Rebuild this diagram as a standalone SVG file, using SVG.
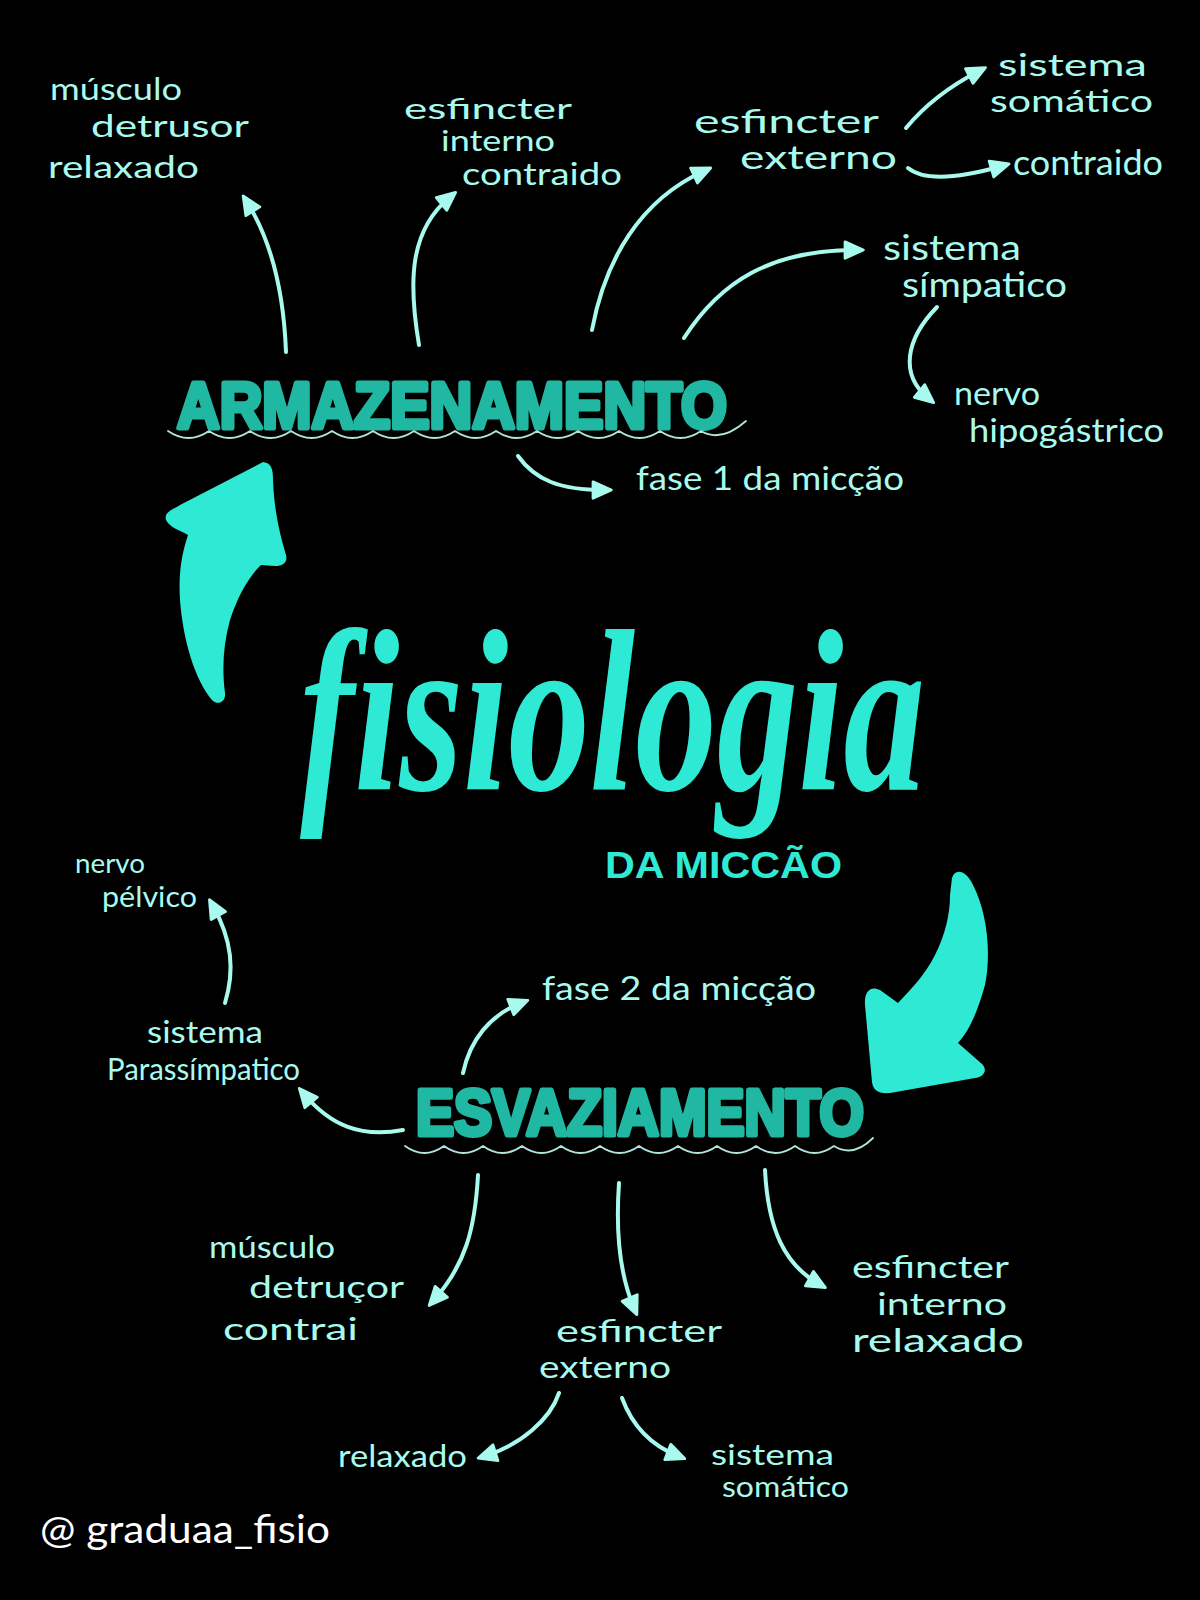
<svg xmlns="http://www.w3.org/2000/svg" width="1200" height="1600" viewBox="0 0 1200 1600">
<style>
.t{font-family:"Lato","Liberation Sans",sans-serif;fill:#a9faee;font-weight:400}
.title{font-family:"Liberation Sans","Arial",sans-serif;font-weight:700;fill:#21b8a3;stroke:#21b8a3;stroke-width:5;stroke-linejoin:round}
.big{fill:#2eead5}
.wave{fill:none;stroke:#b3e4da;stroke-width:1.8;stroke-linecap:round;stroke-linejoin:round}
.c{fill:none;stroke:#a9faee;stroke-width:4;stroke-linecap:round;marker-end:url(#ah)}
</style>
<defs>
<marker id="ah" viewBox="0 0 12 12" refX="7" refY="6" markerWidth="5.5" markerHeight="5.5" orient="auto" markerUnits="strokeWidth">
<path d="M1,1.5 L11,6 L1,10.5 Z" fill="#a9faee" stroke="#a9faee" stroke-width="1.5" stroke-linejoin="round"/>
</marker>
</defs>
<rect width="1200" height="1600" fill="#000"/>

<g id="connectors">
<path class="c" d="M286,352 C284,300 274,245 247,202"/>
<path class="c" d="M419,345 C408,280 410,230 450,197"/>
<path class="c" d="M592,330 C605,260 640,200 704,171"/>
<path class="c" d="M684,338 C720,282 770,250 856,250"/>
<path class="c" d="M906,128 C925,105 950,86 979,71"/>
<path class="c" d="M908,168 C925,182 960,178 1002,166"/>
<path class="c" d="M937,307 C905,340 900,375 928,398"/>
<path class="c" d="M518,456 C535,480 560,490 604,490"/>
<path class="c" d="M225,1003 C235,970 232,940 213,906"/>
<path class="c" d="M403,1130 C360,1138 330,1125 304,1094"/>
<path class="c" d="M463,1073 C470,1040 490,1015 521,1003"/>
<path class="c" d="M478,1175 C475,1230 465,1265 434,1300"/>
<path class="c" d="M619,1183 C615,1240 622,1280 634,1308"/>
<path class="c" d="M765,1170 C768,1230 785,1265 819,1284"/>
<path class="c" d="M559,1393 C550,1420 520,1445 485,1456"/>
<path class="c" d="M622,1398 C632,1425 650,1445 678,1456"/>
</g>

<g id="big-arrow-up">
<path class="big" d="M263,462 C272,463 273,470 273,480 C274,510 280,535 286,555 C288,562 283,566 275,566 L261,565 C250,575 238,595 230,620 C223,645 222,670 225,693 C226,702 218,706 212,700 C195,680 183,640 180,600 C178,570 183,550 188,535 C180,530 170,528 166,520 C164,512 172,510 180,505 Z"/>
</g>
<g id="big-arrow-down">
<path class="big" d="M952,878 C955,868 966,870 973,885 C986,910 992,950 985,985 C978,1010 970,1030 958,1043 L982,1064 C988,1070 984,1077 975,1078 L890,1093 C878,1094 873,1090 872,1082 L865,1005 C864,992 870,985 880,990 L898,1003 C912,988 925,975 935,955 C945,935 950,915 950,895 Z"/>
</g>

<g id="fisiologia">
<text x="300" y="790" font-family="Liberation Serif, serif" font-style="italic" font-weight="700" font-size="230" fill="#2eead5" textLength="625" lengthAdjust="spacingAndGlyphs">fisiologia</text>
<text x="605" y="878" font-family="Liberation Sans, sans-serif" font-weight="700" font-size="36" fill="#2eead5" textLength="237" lengthAdjust="spacingAndGlyphs">DA MICCÃO</text>
</g>

<g id="armazenamento">
<text class="title" x="177" y="428" font-size="64" textLength="550" lengthAdjust="spacingAndGlyphs">ARMAZENAMENTO</text>
<path class="wave" d="M168,431 q20.5,14 41,0 q20.5,14 41,0 q20.5,14 41,0 q20.5,14 41,0 q20.5,14 41,0 q20.5,14 41,0 q20.5,14 41,0 q20.5,14 41,0 q20.5,14 41,0 q20.5,14 41,0 q20.5,14 41,0 q20.5,14 41,0 q20.5,14 41,0 q20,12 45,-10"/>
</g>

<g id="esvaziamento">
<text class="title" x="416" y="1135" font-size="64" textLength="448" lengthAdjust="spacingAndGlyphs">ESVAZIAMENTO</text>
<path class="wave" d="M405,1146 q19.5,14 39,0 q19.5,14 39,0 q19.5,14 39,0 q19.5,14 39,0 q19.5,14 39,0 q19.5,14 39,0 q19.5,14 39,0 q19.5,14 39,0 q19.5,14 39,0 q19.5,14 39,0 q19.5,14 39,0 q19,12 39,-8"/>
</g>

<g id="musculo-relaxado">
<text class="t" x="50" y="100" font-size="30" textLength="132" lengthAdjust="spacingAndGlyphs">músculo</text>
<text class="t" x="91" y="137" font-size="30" textLength="158" lengthAdjust="spacingAndGlyphs">detrusor</text>
<text class="t" x="48" y="178" font-size="30" textLength="151" lengthAdjust="spacingAndGlyphs">relaxado</text>
</g>

<g id="esfincter-interno-contraido">
<text class="t" x="404" y="119" font-size="28" textLength="168" lengthAdjust="spacingAndGlyphs">esfincter</text>
<text class="t" x="441" y="151" font-size="28" textLength="114" lengthAdjust="spacingAndGlyphs">interno</text>
<text class="t" x="462" y="185" font-size="30" textLength="160" lengthAdjust="spacingAndGlyphs">contraido</text>
</g>

<g id="esfincter-externo-top">
<text class="t" x="694" y="133" font-size="32" textLength="185" lengthAdjust="spacingAndGlyphs">esfincter</text>
<text class="t" x="740" y="169" font-size="32" textLength="157" lengthAdjust="spacingAndGlyphs">externo</text>
</g>

<g id="sistema-somatico-top">
<text class="t" x="998" y="76" font-size="30" textLength="149" lengthAdjust="spacingAndGlyphs">sistema</text>
<text class="t" x="990" y="112" font-size="30" textLength="163" lengthAdjust="spacingAndGlyphs">somático</text>
</g>

<g id="contraido-top">
<text class="t" x="1013" y="175" font-size="34" textLength="150" lengthAdjust="spacingAndGlyphs">contraido</text>
</g>

<g id="sistema-simpatico">
<text class="t" x="883" y="260" font-size="34" textLength="138" lengthAdjust="spacingAndGlyphs">sistema</text>
<text class="t" x="902" y="297" font-size="34" textLength="165" lengthAdjust="spacingAndGlyphs">símpatico</text>
</g>

<g id="nervo-hipogastrico">
<text class="t" x="954" y="405" font-size="32" textLength="86" lengthAdjust="spacingAndGlyphs">nervo</text>
<text class="t" x="969" y="442" font-size="32" textLength="195" lengthAdjust="spacingAndGlyphs">hipogástrico</text>
</g>

<g id="fase-1">
<text class="t" x="636" y="490" font-size="32" textLength="268" lengthAdjust="spacingAndGlyphs">fase 1 da micção</text>
</g>

<g id="nervo-pelvico">
<text class="t" x="75" y="873" font-size="26" textLength="70" lengthAdjust="spacingAndGlyphs">nervo</text>
<text class="t" x="102" y="907" font-size="28" textLength="95" lengthAdjust="spacingAndGlyphs">pélvico</text>
</g>

<g id="sistema-parassimpatico">
<text class="t" x="147" y="1043" font-size="30" textLength="116" lengthAdjust="spacingAndGlyphs">sistema</text>
<text class="t" x="107" y="1080" font-size="30" textLength="193" lengthAdjust="spacingAndGlyphs">Parassímpatico</text>
</g>

<g id="fase-2">
<text class="t" x="542" y="1000" font-size="32" textLength="274" lengthAdjust="spacingAndGlyphs">fase 2 da micção</text>
</g>

<g id="musculo-contrai">
<text class="t" x="209" y="1258" font-size="30" textLength="126" lengthAdjust="spacingAndGlyphs">músculo</text>
<text class="t" x="249" y="1298" font-size="30" textLength="155" lengthAdjust="spacingAndGlyphs">detruçor</text>
<text class="t" x="223" y="1340" font-size="30" textLength="135" lengthAdjust="spacingAndGlyphs">contrai</text>
</g>

<g id="esfincter-externo-bottom">
<text class="t" x="556" y="1342" font-size="31" textLength="166" lengthAdjust="spacingAndGlyphs">esfincter</text>
<text class="t" x="539" y="1378" font-size="31" textLength="132" lengthAdjust="spacingAndGlyphs">externo</text>
</g>

<g id="esfincter-interno-relaxado">
<text class="t" x="852" y="1278" font-size="30" textLength="157" lengthAdjust="spacingAndGlyphs">esfincter</text>
<text class="t" x="877" y="1315" font-size="30" textLength="130" lengthAdjust="spacingAndGlyphs">interno</text>
<text class="t" x="852" y="1352" font-size="32" textLength="172" lengthAdjust="spacingAndGlyphs">relaxado</text>
</g>

<g id="relaxado-bottom">
<text class="t" x="338" y="1467" font-size="30" textLength="129" lengthAdjust="spacingAndGlyphs">relaxado</text>
</g>

<g id="sistema-somatico-bottom">
<text class="t" x="711" y="1465" font-size="28" textLength="123" lengthAdjust="spacingAndGlyphs">sistema</text>
<text class="t" x="722" y="1497" font-size="28" textLength="127" lengthAdjust="spacingAndGlyphs">somático</text>
</g>

<g id="signature">
<text x="40" y="1543" font-family="Lato, Liberation Sans, sans-serif" font-size="38" fill="#ffffff" textLength="290" lengthAdjust="spacingAndGlyphs">@ graduaa_fisio</text>
</g>
</svg>
